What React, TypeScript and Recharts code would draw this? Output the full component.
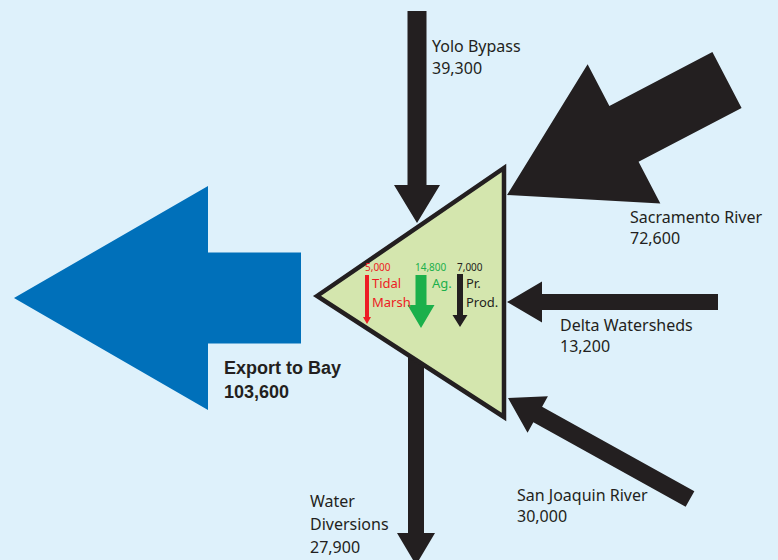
import { ScatterChart, Scatter, XAxis, YAxis } from "recharts";

// flows in and out of the Delta (acre-feet)
const flowNames = [
  ["Yolo Bypass"],
  ["Sacramento River"],
  ["Delta Watersheds"],
  ["San Joaquin River"],
  ["Export to Bay"],
  ["Water", "Diversions"],
];
const flowValues = [39300, 72600, 13200, 30000, 103600, 27900];

// losses inside the Delta
const innerNames = [["Tidal", "Marsh"], ["Ag."], ["Pr.", "Prod."]];
const innerValues = [5000, 14800, 7000];

const W = 778;
const H = 560;
const BG = "#DEF1FB";
const DARK = "#231F20";
const RED = "#ED1C24";
const GREEN = "#1BB04B";

// layout (chart units == pixels): tip, tail, shaft/head widths, head length, colour
const flowLayout = [
  { tip: [417, 223], tail: [417, 11], shaft: 19, head: 46, len: 38, color: DARK, label: [432, 52], font: 16, bold: false, gap: 22 },
  { tip: [507, 195], tail: [727, 80], shaft: 63, head: 157, len: 132, color: DARK, label: [630, 223], font: 16, bold: false, gap: 21 },
  { tip: [507, 302], tail: [718, 302], shaft: 16, head: 41, len: 35, color: DARK, label: [560, 331], font: 16, bold: false, gap: 21 },
  { tip: [508, 398], tail: [690, 499], shaft: 18, head: 42, len: 34, color: DARK, label: [517, 501], font: 16, bold: false, gap: 21 },
  { tip: [14, 298], tail: [301, 298], shaft: 91, head: 224, len: 194, color: "#0070BA", label: [224, 374], font: 18, bold: true, gap: 24 },
  { tip: [416, 565], tail: [416, 350], shaft: 16, head: 38, len: 32, color: DARK, label: [310, 507], font: 16, bold: false, gap: 23 },
];

const innerLayout = [
  { tip: [367, 324], tail: [367, 275], shaft: 4, head: 8, len: 7, color: RED, value: [365, 271], label: [372, 288], textColor: RED, valueColor: RED },
  { tip: [421, 328], tail: [421, 275], shaft: 11, head: 27, len: 23, color: GREEN, value: [415, 271], label: [432, 288], textColor: GREEN, valueColor: GREEN },
  { tip: [460, 327], tail: [460, 274], shaft: 6, head: 15, len: 12, color: DARK, value: [457, 271], label: [466, 288], textColor: DARK, valueColor: DARK },
];

const triangle = [
  [317, 296],
  [504, 168],
  [504, 417],
];

const fmt = (v: number) => v.toLocaleString("en-US");
const kx = 1; // px per unit (domain == plot size)
const ky = 1;

const arrowData = [...flowLayout, ...innerLayout].map((a) => ({
  x: a.tip[0],
  y: a.tip[1],
  dx: a.tail[0] - a.tip[0],
  dy: a.tail[1] - a.tip[1],
  shaft: a.shaft,
  head: a.head,
  len: a.len,
  color: a.color,
}));

const triangleData = [
  {
    x: triangle[0][0],
    y: triangle[0][1],
    pts: triangle.map((p) => [p[0] - triangle[0][0], p[1] - triangle[0][1]]),
  },
];

const labelData = [
  ...flowLayout.map((a, i) => ({
    x: a.label[0],
    y: a.label[1],
    lines: [...flowNames[i], fmt(flowValues[i])],
    color: DARK,
    font: a.font,
    bold: a.bold,
    gap: a.gap,
    family: a.bold ? "'Liberation Sans', Arial, sans-serif" : "'Noto Sans', sans-serif",
  })),
  ...innerLayout.map((a, i) => ({
    x: a.value[0],
    y: a.value[1],
    lines: [fmt(innerValues[i])],
    color: a.valueColor,
    font: 10,
    bold: false,
    gap: 0,
    family: "'Noto Sans', sans-serif",
  })),
  ...innerLayout.map((a, i) => ({
    x: a.label[0],
    y: a.label[1],
    lines: innerNames[i],
    color: a.textColor,
    font: 13,
    bold: false,
    gap: 19,
    family: "'Noto Sans', sans-serif",
  })),
];

const ArrowShape = (props: any) => {
  const { cx, cy, payload } = props;
  const tx = cx;
  const ty = cy;
  const sx = cx + payload.dx * kx;
  const sy = cy + payload.dy * ky;
  const L = Math.hypot(sx - tx, sy - ty);
  const ux = (sx - tx) / L;
  const uy = (sy - ty) / L;
  const px = -uy;
  const py = ux;
  const bx = tx + ux * payload.len;
  const by = ty + uy * payload.len;
  const hs = payload.shaft / 2;
  const hh = payload.head / 2;
  const pts = [
    [tx, ty],
    [bx + px * hh, by + py * hh],
    [bx + px * hs, by + py * hs],
    [sx + px * hs, sy + py * hs],
    [sx - px * hs, sy - py * hs],
    [bx - px * hs, by - py * hs],
    [bx - px * hh, by - py * hh],
  ];
  return <polygon points={pts.map((p) => p.join(",")).join(" ")} fill={payload.color} />;
};

const TriangleShape = (props: any) => {
  const { cx, cy, payload } = props;
  const pts = payload.pts.map((p: number[]) => [cx + p[0] * kx, cy + p[1] * ky]);
  return (
    <polygon
      points={pts.map((p: number[]) => p.join(",")).join(" ")}
      fill="#D4E6AE"
      stroke={DARK}
      strokeWidth={4.5}
      strokeLinejoin="miter"
      strokeMiterlimit={10}
    />
  );
};

const LabelShape = (props: any) => {
  const { cx, cy, payload } = props;
  return (
    <text
      x={cx}
      y={cy}
      fill={payload.color}
      fontSize={payload.font}
      fontWeight={payload.bold ? 700 : 400}
      fontFamily={payload.family}
    >
      {payload.lines.map((l: string, i: number) => (
        <tspan key={i} x={cx} y={cy + i * payload.gap}>
          {l}
        </tspan>
      ))}
    </text>
  );
};

export default function App() {
  return (
    <div style={{ position: "absolute", left: 0, top: 0, width: W, height: H, background: BG, overflow: "hidden" }}>
      <ScatterChart width={W} height={H} margin={{ top: 0, right: 0, bottom: 0, left: 0 }}>
        <XAxis type="number" dataKey="x" domain={[0, W]} allowDataOverflow hide />
        <YAxis type="number" dataKey="y" domain={[0, H]} allowDataOverflow reversed hide />
        <Scatter data={arrowData.slice(0, flowLayout.length)} shape={ArrowShape} isAnimationActive={false} />
        <Scatter data={triangleData} shape={TriangleShape} isAnimationActive={false} />
        <Scatter data={arrowData.slice(flowLayout.length)} shape={ArrowShape} isAnimationActive={false} />
        <Scatter data={labelData} shape={LabelShape} isAnimationActive={false} />
      </ScatterChart>
    </div>
  );
}
